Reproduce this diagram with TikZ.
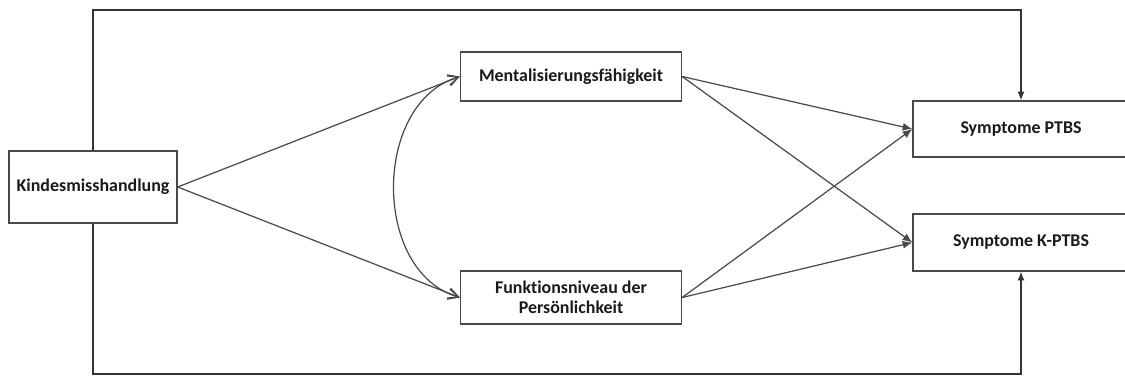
\documentclass[tikz,border=0pt]{standalone}
\usepackage{fontspec}
\setmainfont[Ligatures=NoCommon]{Carlito}
\usetikzlibrary{arrows.meta}
\definecolor{linegray}{HTML}{4A4A4A}
\definecolor{textdark}{HTML}{1A1A1A}
\begin{document}
\begin{tikzpicture}[x=0.02cm,y=-0.02cm,
  box/.style={draw=linegray,line width=0.75pt,fill=white,inner sep=0pt,
    font=\fontsize{10.2}{11.4}\selectfont\bfseries,text=textdark,align=center},
  conn/.style={draw=linegray,line width=0.7pt},
  openhead/.style={conn,-{Straight Barb[length=6pt,width=6pt]}},
  fullhead/.style={conn,-{Latex[length=5.5pt,width=4.5pt]}},
  path/.style={draw=black!80,line width=0.7pt,-{Latex[length=5pt,width=4pt]}}]
\useasboundingbox (0,0) rectangle (1125,376);
\clip (0,0) rectangle (1125,376);

% boxes
\node[box,minimum width=168*0.02cm,minimum height=72*0.02cm] (kind) at (93,187) {Kindesmisshandlung};
\node[box,minimum width=221*0.02cm,minimum height=49*0.02cm] (ment) at (571,76.5) {Mentalisierungsfähigkeit};
\node[box,minimum width=221*0.02cm,minimum height=53*0.02cm] (funk) at (571,297.5) {Funktionsniveau der\\Persönlichkeit};
\node[box,minimum width=216*0.02cm,minimum height=56*0.02cm] (ptbs) at (1021,129) {Symptome PTBS};
\node[box,minimum width=216*0.02cm,minimum height=57*0.02cm] (kptbs) at (1021,242.5) {Symptome K-PTBS};

% corner points of the direct paths
\coordinate (topl) at (93,10);
\coordinate (topr) at (1021,10);
\coordinate (botl) at (93,374);
\coordinate (botr) at (1021,374);

% direct effects
\draw[path] (kind.north) -- (topl) -- (topr) -- (ptbs.north);
\draw[path] (kind.south) -- (botl) -- (botr) -- (kptbs.south);

% paths to the mediators
\draw[openhead] (kind.east) -- (ment.west);
\draw[openhead] (kind.east) -- (funk.west);

% correlation of the mediators
\draw[conn,{Straight Barb[length=6pt,width=6pt]}-{Straight Barb[length=6pt,width=6pt]}]
  (ment.west) .. controls (372,103) and (372,272) .. (funk.west);

% paths to the outcomes
\draw[fullhead] (ment.east) -- (ptbs.west);
\draw[fullhead] (ment.east) -- (kptbs.west);
\draw[fullhead] (funk.east) -- (ptbs.west);
\draw[fullhead] (funk.east) -- (kptbs.west);
\end{tikzpicture}
\end{document}
